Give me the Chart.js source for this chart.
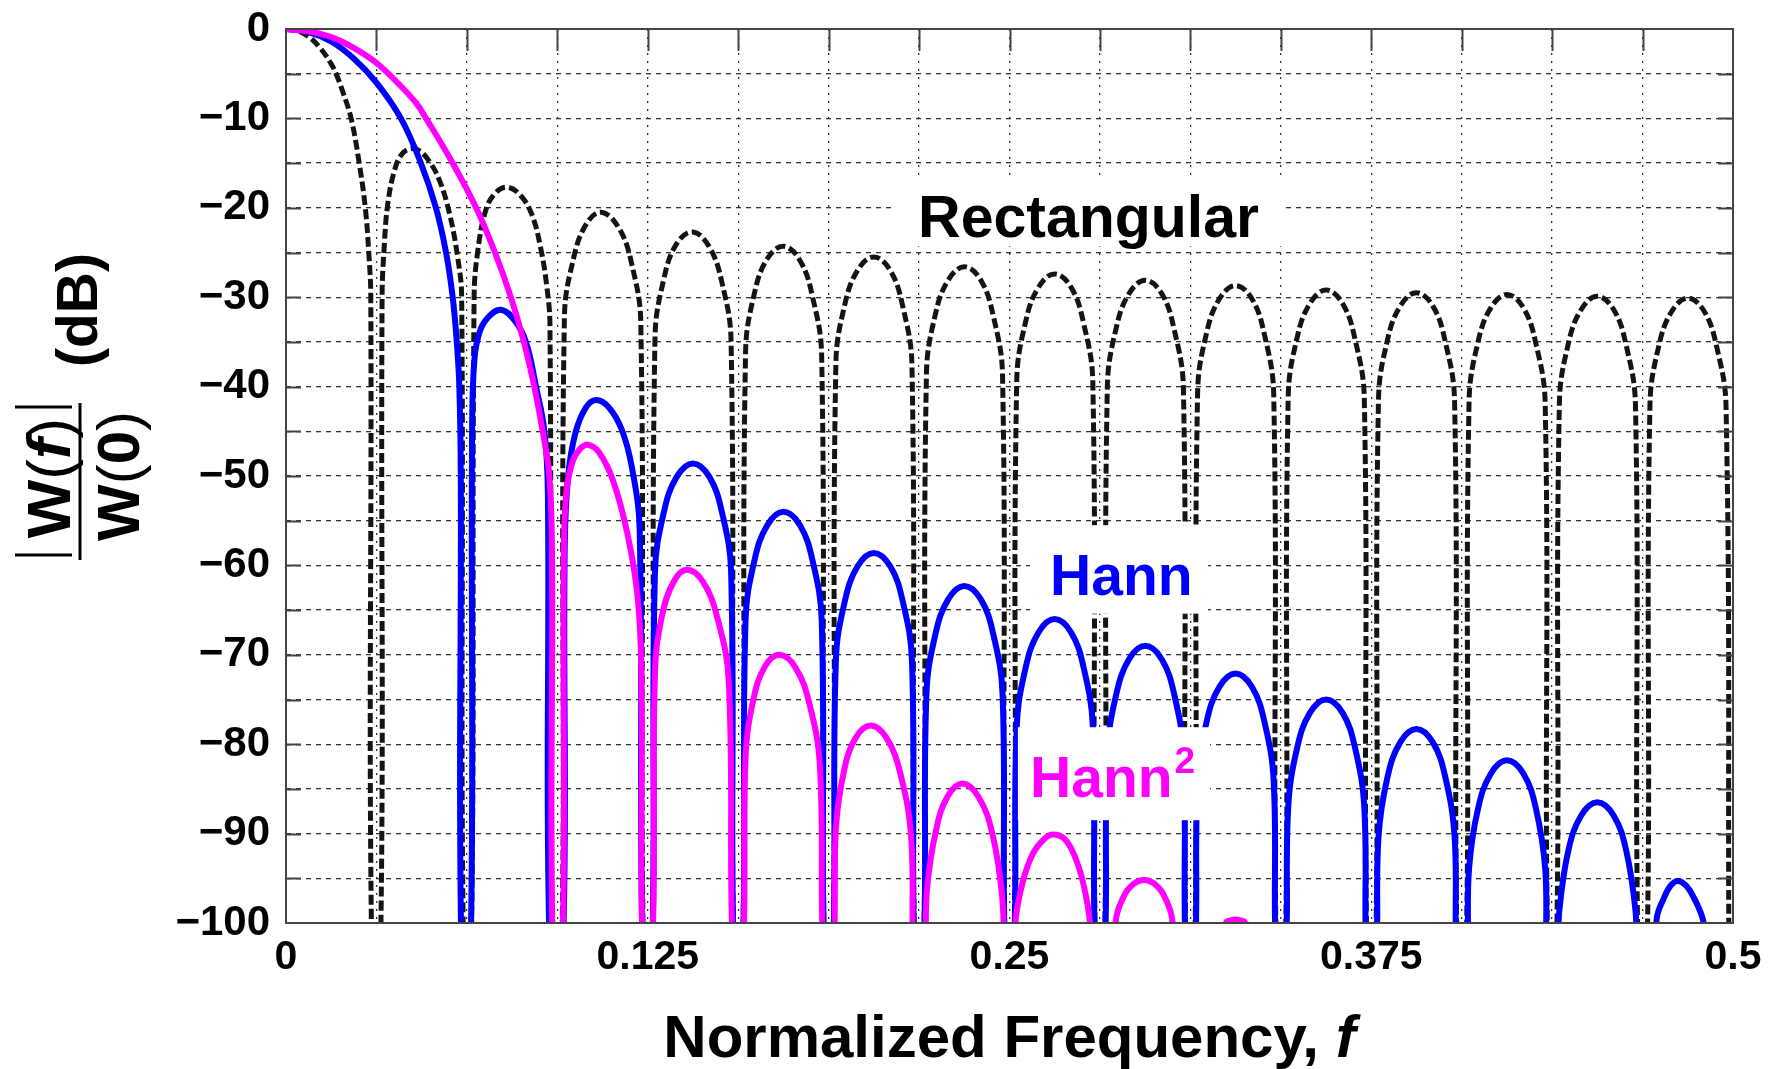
<!DOCTYPE html>
<html>
<head>
<meta charset="utf-8">
<script src="https://cdn.jsdelivr.net/npm/chart.js@4.4.1/dist/chart.umd.min.js"></script>
<style>
html,body{margin:0;padding:0;background:#fff;}
#wrap{width:1787px;height:1069px;position:relative;}
</style>
</head>
<body>
<div id="wrap"><canvas id="c" width="1787" height="1069"></canvas></div>
<script>
const FONT = '"Liberation Sans", Arial, Helvetica, sans-serif';

// ---------- data ----------
const seriesNames = ['Rectangular', 'Hann', 'Hann²'];

const rectFreq = [
  0, 0.0040, 0.0080, 0.0120, 0.0156, 0.0173, 0.0195, 0.0225, 0.0253, 0.0274, 0.0286, 0.0293, 0.0297,
  0.0326, 0.0332, 0.0340, 0.0352, 0.0375, 0.0400, 0.0430, 0.0460, 0.0495, 0.0530, 0.0564, 0.0593, 0.0607, 0.0614,
  0.0639, 0.0650, 0.0662, 0.0691, 0.0725, 0.0765, 0.0810, 0.0850, 0.0880, 0.0900, 0.0912, 0.0922,
  0.0952, 0.0962, 0.0994, 0.1038, 0.1090, 0.1151, 0.1194, 0.1226, 0.1236,
  0.1264, 0.1275, 0.1306, 0.1350, 0.1406, 0.1463, 0.1506, 0.1538, 0.1548,
  0.1577, 0.1588, 0.1619, 0.1663, 0.1719, 0.1776, 0.1819, 0.1851, 0.1861,
  0.1889, 0.1900, 0.1931, 0.1975, 0.2031, 0.2088, 0.2131, 0.2163, 0.2173,
  0.2202, 0.2213, 0.2244, 0.2288, 0.2344, 0.2401, 0.2444, 0.2476, 0.2486,
  0.2514, 0.2525, 0.2556, 0.2600, 0.2656, 0.2713, 0.2756, 0.2788, 0.2798,
  0.2827, 0.2838, 0.2869, 0.2913, 0.2969, 0.3026, 0.3069, 0.3101, 0.3111,
  0.3139, 0.3150, 0.3181, 0.3225, 0.3281, 0.3338, 0.3381, 0.3413, 0.3423,
  0.3452, 0.3463, 0.3494, 0.3538, 0.3594, 0.3651, 0.3694, 0.3726, 0.3736,
  0.3764, 0.3775, 0.3806, 0.3850, 0.3906, 0.3963, 0.4006, 0.4038, 0.4048,
  0.4077, 0.4088, 0.4119, 0.4163, 0.4219, 0.4276, 0.4319, 0.4351, 0.4361,
  0.4389, 0.4400, 0.4431, 0.4475, 0.4531, 0.4588, 0.4631, 0.4663, 0.4673,
  0.4702, 0.4713, 0.4744, 0.4788, 0.4844, 0.4901, 0.4944, 0.4976, 0.4986
];
const rectDb = [
  0, -0.2, -0.9, -2.2, -3.9, -5.0, -6.9, -10.0, -15.0, -20.0, -25.0, -30.0, -105,
  -105, -30, -24, -19.5, -15.8, -14.0, -13.4, -13.6, -14.8, -16.9, -20.5, -25.5, -30, -105,
  -105, -30, -25, -20.2, -18.3, -17.7, -18.6, -20.8, -24.5, -28.5, -33, -105,
  -105, -32.3, -25.6, -21.8, -20.5, -22.3, -26.2, -32.9, -105,
  -105, -34.6, -27.9, -24.0, -22.7, -24.4, -28.3, -35.0, -105,
  -105, -36.2, -29.5, -25.7, -24.3, -25.9, -29.9, -36.6, -105,
  -105, -37.5, -30.8, -27.0, -25.5, -27.0, -31.0, -37.7, -105,
  -105, -38.6, -31.9, -28.1, -26.6, -28.1, -32.1, -38.8, -105,
  -105, -39.4, -32.7, -28.9, -27.4, -28.9, -32.9, -39.6, -105,
  -105, -40.1, -33.4, -29.6, -28.1, -29.6, -33.6, -40.3, -105,
  -105, -40.7, -34.0, -30.2, -28.7, -30.2, -34.2, -40.9, -105,
  -105, -41.2, -34.5, -30.7, -29.2, -30.7, -34.7, -41.4, -105,
  -105, -41.5, -34.8, -31.0, -29.5, -31.0, -35.0, -41.7, -105,
  -105, -41.7, -35.0, -31.2, -29.7, -31.2, -35.2, -41.9, -105,
  -105, -41.9, -35.2, -31.4, -29.9, -31.4, -35.4, -42.1, -105,
  -105, -42.1, -35.4, -31.6, -30.1, -31.6, -35.6, -42.3, -105
];

const hannFreq = [
  0, 0.0078, 0.0156, 0.0234, 0.03125, 0.0397, 0.0466, 0.0518, 0.0553, 0.0576, 0.0590, 0.0599, 0.0604, 0.0607,
  0.0637, 0.0643, 0.0651, 0.0670, 0.0700, 0.0743, 0.0790, 0.0829, 0.0864, 0.0893, 0.0905, 0.0913,
  0.0955, 0.0963, 0.0975, 0.1000, 0.1035, 0.1071, 0.1115, 0.1160, 0.1195, 0.1222, 0.1234,
  0.1264, 0.1275, 0.1306, 0.1350, 0.1406, 0.1463, 0.1506, 0.1538, 0.1548,
  0.1577, 0.1588, 0.1619, 0.1663, 0.1719, 0.1776, 0.1819, 0.1851, 0.1861,
  0.1889, 0.1900, 0.1931, 0.1975, 0.2031, 0.2088, 0.2131, 0.2163, 0.2173,
  0.2202, 0.2213, 0.2244, 0.2288, 0.2344, 0.2401, 0.2444, 0.2476, 0.2486,
  0.2514, 0.2525, 0.2556, 0.2600, 0.2656, 0.2713, 0.2756, 0.2788, 0.2798,
  0.2827, 0.2838, 0.2869, 0.2913, 0.2969, 0.3026, 0.3069, 0.3101, 0.3111,
  0.3139, 0.3150, 0.3181, 0.3225, 0.3281, 0.3338, 0.3381, 0.3413, 0.3423,
  0.3452, 0.3463, 0.3494, 0.3538, 0.3594, 0.3651, 0.3694, 0.3726, 0.3736,
  0.3764, 0.3775, 0.3806, 0.3850, 0.3906, 0.3963, 0.4006, 0.4038, 0.4048,
  0.4077, 0.4088, 0.4119, 0.4163, 0.4219, 0.4276, 0.4319, 0.4351, 0.4361,
  0.4389, 0.4400, 0.4431, 0.4475, 0.4531, 0.4588, 0.4631, 0.4663, 0.4673,
  0.4725, 0.4736, 0.4760, 0.4785, 0.4810, 0.4840, 0.4870, 0.4895, 0.4905, 0.4915
];
const hannDb = [
  0, -0.35, -1.4, -3.3, -6.0, -10.0, -15.0, -20.0, -25.0, -30.0, -35.0, -40.0, -50.0, -105,
  -105, -45, -37, -33.8, -32.2, -31.4, -32.6, -35, -40, -45, -52, -105,
  -105, -58, -50, -45.2, -42.4, -41.5, -42.3, -44.8, -49.0, -56.0, -105,
  -105, -60.7, -54.0, -50.1, -48.6, -50.1, -54.0, -60.7, -105,
  -105, -66.1, -59.4, -55.5, -54.0, -55.5, -59.4, -66.1, -105,
  -105, -70.7, -64.0, -60.1, -58.6, -60.1, -64.0, -70.7, -105,
  -105, -74.4, -67.7, -63.8, -62.3, -63.8, -67.7, -74.4, -105,
  -105, -78.1, -71.4, -67.5, -66.0, -67.5, -71.4, -78.1, -105,
  -105, -81.1, -74.4, -70.5, -69.0, -70.5, -74.4, -81.1, -105,
  -105, -84.2, -77.5, -73.6, -72.1, -73.6, -77.5, -84.2, -105,
  -105, -87.1, -80.4, -76.5, -75.0, -76.5, -80.4, -87.1, -105,
  -105, -90.4, -83.7, -79.8, -78.3, -79.8, -83.7, -90.4, -105,
  -105, -93.9, -87.2, -83.3, -81.8, -83.3, -87.2, -93.9, -105,
  -105, -98.6, -91.9, -88.0, -86.5, -88.0, -91.9, -98.6, -105,
  -110, -99.6, -97.3, -95.8, -95.3, -95.9, -97.5, -99.5, -101.5, -110
];

const hann2Freq = [
  0, 0.0078, 0.0156, 0.0234, 0.0313, 0.0391, 0.0450, 0.0484, 0.0576, 0.0657, 0.0722, 0.0777, 0.0822, 0.0858, 0.0887, 0.0910, 0.0919, 0.0923,
  0.0954, 0.0960, 0.0968, 0.0990, 0.1015, 0.1042, 0.1080, 0.1130, 0.1180, 0.1215, 0.1228, 0.1234,
  0.1264, 0.1275, 0.1300, 0.1340, 0.1385, 0.1440, 0.1490, 0.1530, 0.1546,
  0.1577, 0.1588, 0.1615, 0.1655, 0.1705, 0.1760, 0.1808, 0.1845, 0.1859,
  0.1889, 0.1900, 0.1928, 0.1968, 0.2020, 0.2075, 0.2123, 0.2160, 0.2172,
  0.2203, 0.2215, 0.2245, 0.2285, 0.2338, 0.2393, 0.2440, 0.2474, 0.2485,
  0.2505, 0.2520, 0.2545, 0.2580, 0.2620, 0.2651, 0.2690, 0.2725, 0.2755, 0.2778, 0.2790,
  0.2850, 0.2866, 0.2895, 0.2930, 0.2965, 0.3000, 0.3035, 0.3064, 0.3080,
  0.3235, 0.3248, 0.3265, 0.3281, 0.3297, 0.3314, 0.3327
];
const hann2Db = [
  0, -0.25, -0.9, -2.1, -3.8, -6.2, -8.3, -10.0, -15.0, -20.0, -25.0, -30.0, -35.0, -40.0, -45.0, -50.0, -58.0, -105,
  -105, -60, -52, -48.4, -47.0, -46.5, -47.3, -50.5, -56.5, -63.5, -72, -105,
  -105, -72.0, -65.5, -61.8, -60.5, -61.8, -65.8, -73.0, -105,
  -105, -81.5, -75.0, -71.3, -70.0, -71.4, -75.4, -82.5, -105,
  -105, -89.5, -83.0, -79.3, -77.9, -79.3, -83.3, -90.3, -105,
  -105, -96.2, -89.8, -85.9, -84.4, -85.9, -89.9, -96.8, -105,
  -110, -100, -95.5, -92.3, -90.6, -90.1, -90.6, -92.5, -95.6, -100, -110,
  -110, -100, -97.0, -95.6, -95.2, -95.6, -97.0, -100, -110,
  -110, -100, -99.7, -99.6, -99.7, -100, -110
];

const xGridValues = [0, 0.03125, 0.0625, 0.09375, 0.125, 0.15625, 0.1875, 0.21875, 0.25,
  0.28125, 0.3125, 0.34375, 0.375, 0.40625, 0.4375, 0.46875, 0.5];
const xTickValues = [0, 0.125, 0.25, 0.375, 0.5];
const xTickLabels = ['0', '0.125', '0.25', '0.375', '0.5'];
const yGridValues = [-100, -95, -90, -85, -80, -75, -70, -65, -60, -55, -50, -45, -40, -35, -30, -25, -20, -15, -10, -5, 0];
const yTickValues = [0, -10, -20, -30, -40, -50, -60, -70, -80, -90, -100];
const yTickLabels = ['0', '−10', '−20', '−30', '−40', '−50', '−60', '−70', '−80', '−90', '−100'];

function pts(fs, ds) { return fs.map((f, i) => ({ x: f, y: ds[i] })); }

// ---------- overlay: labels, frame, inward ticks, axis titles ----------
const overlay = {
  id: 'overlay',
  afterDatasetsDraw(chart) {
    const { ctx, scales: { x, y } } = chart;
    ctx.save();
    const box = (f0, f1, d0, d1) => {
      const X0 = x.getPixelForValue(f0), X1 = x.getPixelForValue(f1);
      const Y0 = y.getPixelForValue(d0), Y1 = y.getPixelForValue(d1);
      ctx.fillStyle = '#ffffff';
      ctx.fillRect(X0, Y0, X1 - X0, Y1 - Y0);
    };
    box(0.2104, 0.3445, -16.9, -24.3);
    box(0.2571, 0.3186, -55.5, -65.4);
    box(0.2529, 0.3193, -78.1, -88.5);

    ctx.textAlign = 'left';
    ctx.textBaseline = 'alphabetic';
    ctx.font = 'bold 59px ' + FONT;
    ctx.fillStyle = '#000000';
    ctx.fillText(seriesNames[0], x.getPixelForValue(0.2184), y.getPixelForValue(-23.27));

    ctx.font = 'bold 57px ' + FONT;
    ctx.fillStyle = '#0000ff';
    ctx.fillText(seriesNames[1], x.getPixelForValue(0.2640), y.getPixelForValue(-63.3));

    ctx.fillStyle = '#ff00ff';
    const hx = x.getPixelForValue(0.2571), hy = y.getPixelForValue(-85.9);
    ctx.fillText('Hann', hx, hy);
    const w = ctx.measureText('Hann').width;
    ctx.font = 'bold 37px ' + FONT;
    ctx.fillText('2', hx + w + 2, hy - 24);
    ctx.restore();
  },
  afterDraw(chart) {
    const { ctx, chartArea: ca, scales: { x, y } } = chart;
    ctx.save();
    // frame
    ctx.strokeStyle = '#444';
    ctx.lineWidth = 2;
    ctx.setLineDash([]);
    ctx.strokeRect(ca.left, ca.top, ca.right - ca.left, ca.bottom - ca.top);
    // inward ticks
    ctx.beginPath();
    xGridValues.forEach(v => {
      if (v <= 0 || v >= 0.5) return;
      const px = Math.round(x.getPixelForValue(v)) + 0.5;
      ctx.moveTo(px, ca.top); ctx.lineTo(px, ca.top + 22);
    });
    yGridValues.forEach(v => {
      if (v <= -100 || v >= 0) return;
      const py = Math.round(y.getPixelForValue(v)) + 0.5;
      ctx.moveTo(ca.left, py); ctx.lineTo(ca.left + 15, py);
      ctx.moveTo(ca.right, py); ctx.lineTo(ca.right - 15, py);
    });
    ctx.stroke();

    // x axis title
    ctx.fillStyle = '#000';
    ctx.textBaseline = 'alphabetic';
    ctx.textAlign = 'left';
    const segsX = [
      { t: 'Normalized Frequency, ', f: 'bold 60px ' + FONT },
      { t: 'f', f: 'italic bold 60px ' + FONT }
    ];
    let tw = 0;
    segsX.forEach(s => { ctx.font = s.f; s.w = ctx.measureText(s.t).width; tw += s.w; });
    let sx = (ca.left + ca.right) / 2 - tw / 2;
    segsX.forEach(s => { ctx.font = s.f; ctx.fillText(s.t, sx, 1057); sx += s.w; });

    // y axis title (rotated)
    const rotText = (segs, baseX, centerY) => {
      let total = 0;
      segs.forEach(s => { ctx.font = s.f; s.w = ctx.measureText(s.t).width; total += s.w; });
      ctx.save();
      ctx.translate(baseX, centerY);
      ctx.rotate(-Math.PI / 2);
      let u = -total / 2;
      segs.forEach(s => { ctx.font = s.f; ctx.fillText(s.t, u, 0); u += s.w; });
      ctx.restore();
    };
    rotText([{ t: '(dB)', f: 'bold 57px ' + FONT }], 97, 310);
    rotText([
      { t: 'W', f: 'bold 62px ' + FONT },
      { t: '(', f: '62px ' + FONT },
      { t: 'f', f: 'italic bold 62px ' + FONT },
      { t: ')', f: '62px ' + FONT }
    ], 70, 478);
    rotText([
      { t: 'W', f: 'bold 60px ' + FONT },
      { t: '(', f: '60px ' + FONT },
      { t: '0', f: 'bold 60px ' + FONT },
      { t: ')', f: '60px ' + FONT }
    ], 139, 476);
    ctx.strokeStyle = '#000';
    ctx.lineWidth = 3;
    ctx.beginPath();
    ctx.moveTo(80, 403); ctx.lineTo(80, 560);         // fraction bar
    ctx.moveTo(15, 407); ctx.lineTo(72, 407);         // |  |
    ctx.moveTo(15, 555); ctx.lineTo(72, 555);
    ctx.stroke();
    ctx.restore();
  }
};

new Chart(document.getElementById('c'), {
  type: 'line',
  data: {
    datasets: [
      { label: seriesNames[0], data: pts(rectFreq, rectDb), borderColor: '#141414', borderWidth: 5,
        borderDash: [10, 4], order: 3 },
      { label: seriesNames[1], data: pts(hannFreq, hannDb), borderColor: '#0000ff', borderWidth: 6, order: 2 },
      { label: seriesNames[2], data: pts(hann2Freq, hann2Db), borderColor: '#ff00ff', borderWidth: 6, order: 1 }
    ]
  },
  options: {
    responsive: false,
    animation: false,
    devicePixelRatio: 1,
    layout: { padding: { left: 0, right: 54, top: 29, bottom: 0 } },
    plugins: { legend: { display: false }, tooltip: { enabled: false } },
    elements: {
      point: { radius: 0, hoverRadius: 0 },
      line: { tension: 0.4, cubicInterpolationMode: 'default', borderCapStyle: 'butt', borderJoinStyle: 'round', fill: false }
    },
    scales: {
      x: {
        type: 'linear', min: 0, max: 0.5,
        afterBuildTicks: a => { a.ticks = xGridValues.map(v => ({ value: v })); },
        afterFit: a => { a.height = 146; },
        grid: { color: '#333', lineWidth: 1.3, drawTicks: false },
        border: { display: false, dash: [2, 6] },
        ticks: {
          autoSkip: false, maxRotation: 0, minRotation: 0, padding: 10, color: '#000',
          font: { family: FONT, size: 41, weight: 'bold' },
          callback: v => { const i = xTickValues.indexOf(v); return i < 0 ? '' : xTickLabels[i]; }
        }
      },
      y: {
        type: 'linear', min: -100, max: 0,
        afterBuildTicks: a => { a.ticks = yGridValues.map(v => ({ value: v })); },
        afterFit: a => { a.width = 286; a.paddingTop = 0; a.paddingBottom = 0; },
        grid: { color: '#333', lineWidth: 1.3, drawTicks: false },
        border: { display: false, dash: [5, 5] },
        ticks: {
          autoSkip: false, padding: 16, color: '#000',
          font: { family: FONT, size: 42, weight: 'bold' },
          callback: v => { const i = yTickValues.indexOf(v); return i < 0 ? '' : yTickLabels[i]; }
        }
      }
    }
  },
  plugins: [overlay]
});
</script>
</body>
</html>
